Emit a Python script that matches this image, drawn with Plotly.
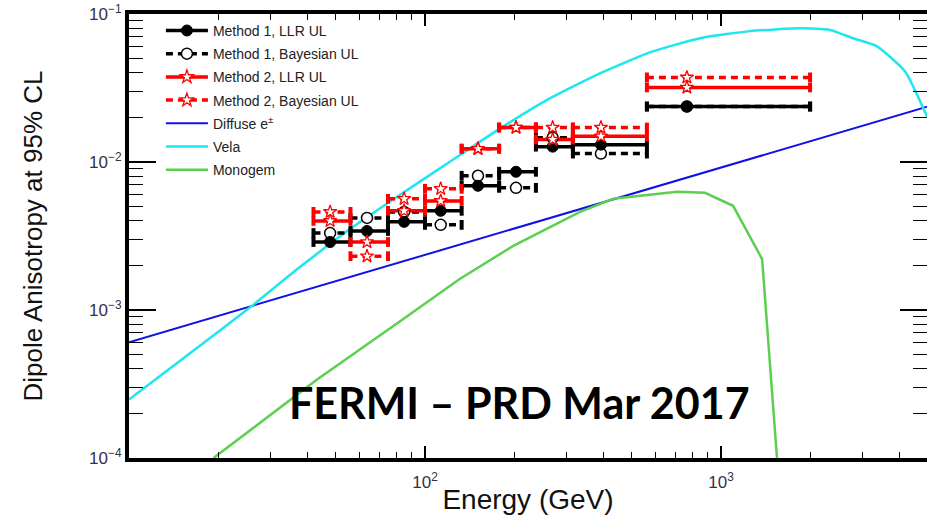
import math
import plotly.graph_objects as go

# ---------------- data ----------------
bin_lo = [42, 56, 75, 100, 133, 178, 237, 316, 562]
bin_hi = [56, 75, 100, 133, 178, 237, 316, 562, 2000]
e_mark = [47.8, 63.7, 85, 113, 151, 203, 270, 393, 767]

m1_llr = [2.88e-3, 3.42e-3, 3.94e-3, 4.68e-3, 6.91e-3, 8.59e-3, 1.27e-2, 1.31e-2, 2.37e-2]
m1_bay = [3.31e-3, 4.19e-3, 4.60e-3, 3.76e-3, 8.07e-3, 6.69e-3, 1.46e-2, 1.14e-2, 2.37e-2]
m2_llr = [4.00e-3, 2.88e-3, 4.68e-3, 5.46e-3, 1.23e-2, 1.71e-2, 1.42e-2, 1.49e-2, 3.19e-2]
m2_bay = [4.60e-3, 2.31e-3, 5.64e-3, 6.59e-3, 1.23e-2, 1.71e-2, 1.71e-2, 1.71e-2, 3.73e-2]

diffuse_e = [10, 100, 1000, 5000]
diffuse_a = [6.06e-4, 2.36e-3, 9.2e-3, 2.37e-2]

vela_e = [10, 17.4, 25.6, 37.8, 55.8, 82.4, 121, 179, 264, 390, 575, 849,
          1253, 1849, 2334, 2793, 3366, 4188, 4966]
vela_a = [2.48e-4, 5.76e-4, 1.04e-3, 1.95e-3, 3.52e-3, 6.0e-3, 1.0e-2, 1.68e-2,
          2.69e-2, 3.97e-2, 5.5e-2, 6.86e-2, 7.66e-2, 8.0e-2, 7.8e-2, 6.86e-2,
          6.05e-2, 4.09e-2, 2.03e-2]

monogem_e = [19.3, 43.2, 82.4, 131, 198, 334, 432, 710, 883, 1099, 1377, 1546]
monogem_a = [1.0e-4, 3.39e-4, 8.4e-4, 1.62e-3, 2.70e-3, 4.6e-3, 5.64e-3, 6.29e-3,
             6.19e-3, 5.06e-3, 2.21e-3, 1.0e-4]

x_ticks = [100, 1000]
x_ticktext = ["10<sup>2</sup>", "10<sup>3</sup>"]
y_ticks = [1e-4, 1e-3, 1e-2, 1e-1]
y_ticktext = ["10<sup>\u22124</sup>", "10<sup>\u22123</sup>", "10<sup>\u22122</sup>", "10<sup>\u22121</sup>"]

names = ["Method 1, LLR UL", "Method 1, Bayesian UL", "Method 2, LLR UL", "Method 2, Bayesian UL",
         "Diffuse e<sup>\u00b1</sup>", "Vela", "Monogem"]

# ---------------- figure ----------------
fig = go.Figure()

BLUE = "#1010e8"
CYAN = "#1ee6f0"
GREEN = "#5ccf50"
RED = "#ff0000"

# model curves
fig.add_trace(go.Scatter(x=diffuse_e, y=diffuse_a, mode="lines", line=dict(color=BLUE, width=2),
                         name=names[4], legendgroup="g5", legendrank=5))
fig.add_trace(go.Scatter(x=vela_e, y=vela_a, mode="lines",
                         line=dict(color=CYAN, width=2.5, shape="spline", smoothing=0.5),
                         name=names[5], legendgroup="g6", legendrank=6))
fig.add_trace(go.Scatter(x=monogem_e, y=monogem_a, mode="lines", line=dict(color=GREEN, width=2.5),
                         name=names[6], legendgroup="g7", legendrank=7))


def bars(vals):
    xs, ys = [], []
    for lo, hi, v in zip(bin_lo, bin_hi, vals):
        xs += [lo, hi, None]
        ys += [v, v, None]
    return xs, ys


series = [
    (m1_llr, "black", "solid", dict(symbol="circle", size=11, color="black", line=dict(color="black", width=1)), 1),
    (m1_bay, "black", "7px,5px", dict(symbol="circle", size=11, color="white", line=dict(color="black", width=1.5)), 2),
    (m2_llr, RED, "solid", dict(symbol="star", size=10, color="white", line=dict(color=RED, width=1.3)), 3),
    (m2_bay, RED, "7px,5px", dict(symbol="star", size=10, color="white", line=dict(color=RED, width=1.3)), 4),
]

# bars first (draw order: M1 bayes, M1 LLR, M2 LLR, M2 bayes)
order = [1, 0, 2, 3]
for i in order:
    vals, col, dash, mk, rank = series[i]
    bx, by = bars(vals)
    fig.add_trace(go.Scatter(x=bx, y=by, mode="lines+markers",
                             line=dict(color=col, width=3.5, dash=dash),
                             marker=dict(symbol="line-ns", size=7, color=col, line=dict(color=col, width=4)),
                             showlegend=False, hoverinfo="skip", legendgroup=f"g{rank}"))
for i in order:
    vals, col, dash, mk, rank = series[i]
    fig.add_trace(go.Scatter(x=e_mark, y=vals, mode="markers", marker=mk,
                             showlegend=False, legendgroup=f"g{rank}"))
    # legend entry
    fig.add_trace(go.Scatter(x=[None], y=[None], mode="lines+markers",
                             line=dict(color=col, width=3.5, dash=dash), marker=mk,
                             name=names[i], legendgroup=f"g{rank}", legendrank=rank))

TICKFONT = dict(family="Liberation Sans, Arial", size=17, color="#333344")

fig.update_xaxes(type="log", range=[1, math.log10(4966)],
                 tickmode="array", tickvals=x_ticks, ticktext=x_ticktext,
                 ticks="inside", ticklen=12, tickwidth=1.5, tickcolor="black",
                 minor=dict(tickmode="array",
                            tickvals=[20, 30, 40, 50, 60, 70, 80, 90, 200, 300, 400, 500, 600, 700, 800, 900, 2000, 3000, 4000],
                            ticks="inside", ticklen=6, tickwidth=1.2, tickcolor="black", showgrid=False),
                 showline=True, linewidth=4, linecolor="black", mirror="allticks",
                 showgrid=False, zeroline=False, tickfont=TICKFONT, automargin=False,
                 ticklabelstandoff=6,
                 title=dict(text="Energy (GeV)", font=dict(family="Liberation Sans, Arial", size=28, color="#111"),
                            standoff=0))
fig.update_yaxes(type="log", range=[-4, -1],
                 tickmode="array", tickvals=y_ticks, ticktext=y_ticktext,
                 ticks="inside", ticklen=27, tickwidth=1.5, tickcolor="black",
                 minor=dict(tickmode="array",
                            tickvals=[k * 10.0 ** p for p in (-4, -3, -2) for k in range(2, 10)],
                            ticks="inside", ticklen=14, tickwidth=1.2, tickcolor="black", showgrid=False),
                 showline=True, linewidth=4, linecolor="black", mirror="allticks",
                 showgrid=False, zeroline=False, tickfont=TICKFONT, automargin=False,
                 title=dict(text="Dipole Anisotropy at 95% CL",
                            font=dict(family="Liberation Sans, Arial", size=26, color="#111"),
                            standoff=40))

fig.add_annotation(text="<b>FERMI \u2013 PRD Mar 2017</b>", xref="paper", yref="paper",
                   x=(519 - 129) / 798, y=(458 - 402) / 444, xanchor="center", yanchor="middle",
                   showarrow=False, font=dict(family="Lato, Open Sans", size=43, color="black"))

fig.update_layout(width=927, height=515, margin=dict(l=129, r=0, t=14, b=57),
                  plot_bgcolor="white", paper_bgcolor="white", showlegend=True,
                  legend=dict(x=0.04, y=0.998, xanchor="left", yanchor="top",
                              bgcolor="rgba(0,0,0,0)", traceorder="grouped", tracegroupgap=2,
                              itemwidth=42,
                              font=dict(family="Liberation Sans, Arial", size=14, color="#222")))

fig.write_html("out.html")
